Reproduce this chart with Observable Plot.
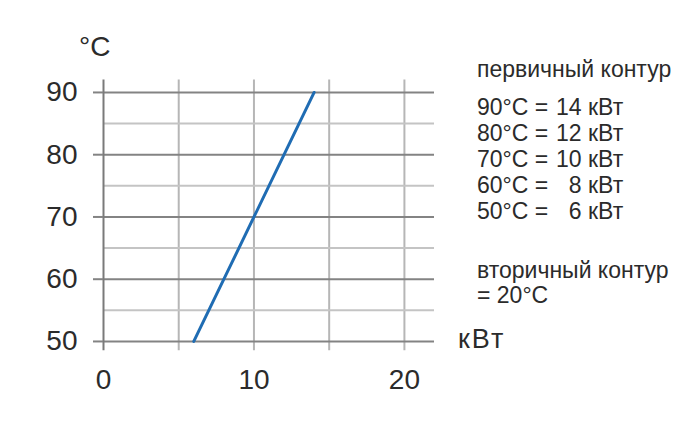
<!DOCTYPE html>
<html>
<head>
<meta charset="utf-8">
<script src="https://cdn.jsdelivr.net/npm/d3@7"></script>
<script src="https://cdn.jsdelivr.net/npm/@observablehq/plot@0.6"></script>
<style>
  html, body { margin: 0; padding: 0; background: #fff; }
  #wrap { position: relative; width: 700px; height: 426px; font-family: "Liberation Sans", Arial, sans-serif; color: #2b2b2b; }
  #wrap svg { position: absolute; left: 0; top: 0; }
  .ov { position: absolute; white-space: pre; }
  .unitY { left: 79px; top: 33px; font-size: 28px; line-height: 28px; }
  .unitX { left: 458px; top: 326px; font-size: 27px; line-height: 27px; letter-spacing: 2px; }
  .leg { left: 477px; font-size: 23px; line-height: 24px; height: 24px; }
  .num { display: inline-block; width: 27px; text-align: right; }
</style>
</head>
<body>
<div id="wrap"></div>
<script>
// Data
const temps = [50, 60, 70, 80, 90];        // °C (primary circuit)
const powers = [6, 8, 10, 12, 14];         // кВт
const yMajor = [50, 60, 70, 80, 90];
const yMinor = [55, 65, 75, 85];
const xGrid = [0, 5, 10, 15, 20];
const xTicks = [0, 10, 20];
const unitY = "°C";
const unitX = "кВт";
const primaryTitle = "первичный контур";
const secondaryTitle = "вторичный контур";
const secondaryValue = "= 20°C";

const points = temps.map((t, i) => ({t, p: powers[i]}));

const dark = "#838383";
const light = "#b6b6b6";
const minor = "#c4c4c4";

const chart = Plot.plot({
  width: 700,
  height: 426,
  marginLeft: 103,
  marginRight: 266,
  marginTop: 79.5,
  marginBottom: 75.7,
  style: {fontFamily: "Liberation Sans, Arial, sans-serif", color: "#2b2b2b", background: "transparent"},
  x: {domain: [0, 22]},
  y: {domain: [48.5, 92]},
  marks: [
    Plot.ruleX(xGrid.filter(d => d !== 0), {stroke: light, strokeWidth: 2}),
    Plot.ruleY(yMinor, {x1: 0, x2: 22, stroke: minor, strokeWidth: 2}),
    Plot.ruleY(yMajor, {x1: 0, x2: 22, stroke: dark, strokeWidth: 2}),
    Plot.ruleX([0], {stroke: "#7a7a7a", strokeWidth: 2}),
    Plot.line(points, {x: "p", y: "t", stroke: "#1f6cb3", strokeWidth: 3}),
    Plot.axisY({ticks: yMajor, tickSize: 10, tickPadding: 16, fontSize: 28, stroke: dark, strokeWidth: 2, fill: "#2b2b2b", label: null}),
    Plot.axisX({ticks: xTicks, tickSize: 0, tickPadding: 18, fontSize: 28, fill: "#2b2b2b", label: null})
  ]
});

const wrap = document.getElementById("wrap");
wrap.appendChild(chart);

function ov(cls, html, top) {
  const d = document.createElement("div");
  d.className = "ov " + cls;
  if (top !== undefined) d.style.top = top + "px";
  d.innerHTML = html;
  wrap.appendChild(d);
}
// baseline ≈ top + 20 for the legend lines
ov("unitY", unitY);
ov("unitX", unitX);
ov("leg", primaryTitle, 57);
temps.slice().reverse().forEach((t, i) => {
  const p = powers[powers.length - 1 - i];
  ov("leg", `<span>${t}°C =</span> <span class="num">${p}</span> <span>${unitX}</span>`, 95 + i * 26);
});
ov("leg", secondaryTitle, 258);
ov("leg", secondaryValue, 283);
</script>
</body>
</html>
